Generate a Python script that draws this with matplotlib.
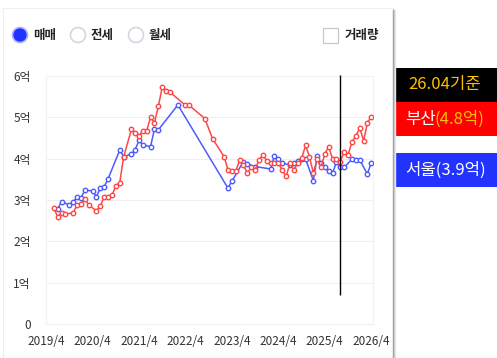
import numpy as np
import pandas as pd
import matplotlib
matplotlib.use("Agg")
import matplotlib.pyplot as plt
from matplotlib.patches import Rectangle, Ellipse

plt.rcParams['font.family'] = ['Noto Sans CJK KR', 'DejaVu Sans']

# ---- data (억 원) ----
busan_dates = ['2019-06', '2019-07', '2019-08', '2019-09', '2019-11', '2019-12', '2020-01', '2020-02', '2020-03',
               '2020-05', '2020-06', '2020-07', '2020-08', '2020-09', '2020-10', '2020-11', '2020-12',
               '2021-02', '2021-03', '2021-04', '2021-05', '2021-06', '2021-07', '2021-08', '2021-09',
               '2021-10', '2021-11', '2021-12', '2022-04', '2022-05', '2022-09', '2022-11',
               '2023-02', '2023-03', '2023-04', '2023-05', '2023-06', '2023-07', '2023-08', '2023-09',
               '2023-10', '2023-11', '2023-12', '2024-01', '2024-02', '2024-03', '2024-04', '2024-05',
               '2024-06', '2024-07', '2024-08', '2024-09', '2024-10', '2024-11', '2024-12', '2025-01',
               '2025-02', '2025-03', '2025-04', '2025-05', '2025-06', '2025-07', '2025-08', '2025-09',
               '2025-10', '2025-11', '2025-12', '2026-01', '2026-02', '2026-03', '2026-04']
busan_vals = [2.80, 2.60, 2.69, 2.66, 2.69, 2.88, 2.90, 3.03, 2.88,
              2.74, 2.86, 3.07, 3.07, 3.12, 3.34, 3.42, 4.04,
              4.71, 4.63, 4.55, 4.68, 4.68, 5.00, 4.87, 5.28,
              5.73, 5.64, 5.61, 5.29, 5.29, 4.97, 4.48,
              4.04, 3.73, 3.71, 3.69, 3.96, 3.85, 3.65, 3.79,
              3.73, 3.97, 4.09, 3.95, 3.89, 3.89, 3.89, 3.73,
              3.57, 3.89, 3.73, 3.89, 4.01, 4.32, 4.05, 3.65,
              3.99, 3.79, 4.11, 4.29, 3.99, 3.99, 3.93, 4.17,
              4.09, 4.41, 4.55, 4.74, 4.43, 4.86, 5.02]

seoul_dates = ['2019-07', '2019-08', '2019-10', '2019-11', '2019-12', '2020-01', '2020-02', '2020-04',
               '2020-05', '2020-06', '2020-07', '2020-08', '2020-11', '2020-12', '2021-02', '2021-03',
               '2021-04', '2021-05', '2021-07', '2021-08', '2021-09', '2022-02', '2023-03', '2023-04',
               '2023-07', '2023-08', '2023-10', '2024-02', '2024-03', '2024-04', '2024-05', '2024-07',
               '2024-08', '2024-09', '2024-10', '2024-11', '2025-01', '2025-02', '2025-03', '2025-04',
               '2025-05', '2025-06', '2025-07', '2025-08', '2025-09', '2025-11', '2025-12', '2026-01',
               '2026-03', '2026-04']
seoul_vals = [2.78, 2.96, 2.88, 2.94, 3.08, 3.05, 3.24, 3.22,
              3.08, 3.29, 3.32, 3.51, 4.21, 4.05, 4.11, 4.21,
              4.44, 4.33, 4.29, 4.72, 4.70, 5.30, 3.29, 3.45,
              3.93, 3.87, 3.81, 3.75, 4.07, 3.99, 3.89, 3.85,
              3.89, 3.95, 3.99, 3.99, 3.47, 4.07, 3.89, 3.79,
              3.69, 3.65, 3.91, 3.79, 3.79, 3.99, 3.97, 3.97,
              3.63, 3.89]

xtick_dates = ['2019-04', '2020-04', '2021-04', '2022-04', '2023-04', '2024-04', '2025-04', '2026-04']
xtick_labels = ['2019/4', '2020/4', '2021/4', '2022/4', '2023/4', '2024/4', '2025/4', '2026/4']
yticks = [0, 1, 2, 3, 4, 5, 6]
ytick_labels = ['0', '1억', '2억', '3억', '4억', '5억', '6억']
marker_date = '2025-08'

W, H = 497, 358
fig = plt.figure(figsize=(W / 100, H / 100), dpi=100)

def fx(px):
    return px / W

def fy(py):
    return 1 - py / H

def rect(x0, y0, x1, y1, **kw):
    # pixel box (top-left origin) -> figure patch
    r = Rectangle((fx(x0), fy(y1)), fx(x1) - fx(x0), fy(y0) - fy(y1), transform=fig.transFigure, **kw)
    fig.patches.append(r)
    return r

# panel frame
rect(3, 8, 393, 358, facecolor='none', edgecolor='#eeeeee', lw=0.8, zorder=-5)
# shadow line of the panel edge
for i, c in enumerate(['#9a9a9a', '#c8c8c8', '#e6e6e6']):
    fig.add_artist(plt.Line2D([fx(393 + i), fx(393 + i)], [fy(10), 0], transform=fig.transFigure,
                              color=c, lw=1))

ax = fig.add_axes([fx(46), fy(324), fx(373) - fx(46), fy(76) - fy(324)])
ax.patch.set_alpha(0)
bd = pd.to_datetime(busan_dates)
sd = pd.to_datetime(seoul_dates)
ax.plot(sd, seoul_vals, color='#4d5bff', lw=1.1, marker='o', ms=3.2, mfc='white', mec='#4d5bff', mew=1,
        zorder=3)
ax.plot(bd, busan_vals, color='#ff4646', lw=1.1, marker='o', ms=3.2, mfc='white', mec='#ff4646', mew=1,
        zorder=4)

ax.set_xlim(pd.Timestamp('2019-04-01'), pd.Timestamp('2026-04-15'))
ax.set_ylim(0, 6)
ax.set_xticks(pd.to_datetime(xtick_dates))
ax.set_xticklabels(xtick_labels)
ax.set_yticks(yticks)
ax.set_yticklabels(ytick_labels)
ax.tick_params(length=0, labelsize=8.5, colors='#333333', pad=8)
ax.tick_params(axis='y', pad=11)
ax.grid(axis='y', color='#eeeeee', lw=0.8)
for s in ax.spines.values():
    s.set_color('#f2f2f2')
    s.set_linewidth(0.8)
ax.set_axisbelow(True)

ax.vlines(pd.Timestamp(marker_date + '-01'), 0.7, 6.03, color='black', lw=1, clip_on=False, zorder=5)

# radio buttons
for x, fc, ec in [(20, '#1f32ff', '#aab2ff'), (78, 'white', '#d5d7e0'), (136, 'white', '#d5d7e0')]:
    fig.patches.append(Ellipse((fx(x), fy(35)), 15 / W, 15 / H, transform=fig.transFigure,
                               facecolor=fc, edgecolor=ec, lw=1.2))
for x, t in [(33, '매매'), (91, '전세'), (149, '월세')]:
    fig.text(fx(x), fy(35), t, fontsize=9, fontweight='bold', color='#222222', va='center', ha='left')

rect(323, 28, 338, 43, facecolor='white', edgecolor='#c8c8c8', lw=0.9)
fig.text(fx(345), fy(35), '거래량', fontsize=9, fontweight='bold', color='#222222', va='center', ha='left')

# legend boxes on the right
rect(393, 68, 497, 102, facecolor='black', edgecolor='none')
fig.text(fx(445), fy(85), '26.04기준', fontsize=12, fontweight='medium', color='#ffc000',
         va='center', ha='center')

rect(393, 102, 497, 136, facecolor='#ff0000', edgecolor='none')
fig.text(fx(405), fy(119), '부산', fontsize=12, fontweight='medium', color='white', va='center', ha='left')
fig.text(fx(434), fy(119), '(4.8억)', fontsize=12, fontweight='medium', color='#ffc000', va='center', ha='left')

rect(393, 153, 497, 187, facecolor='#2233ff', edgecolor='none')
fig.text(fx(445), fy(170), '서울(3.9억)', fontsize=12, fontweight='medium', color='white',
         va='center', ha='center')

fig.savefig('out.png', dpi=100)
